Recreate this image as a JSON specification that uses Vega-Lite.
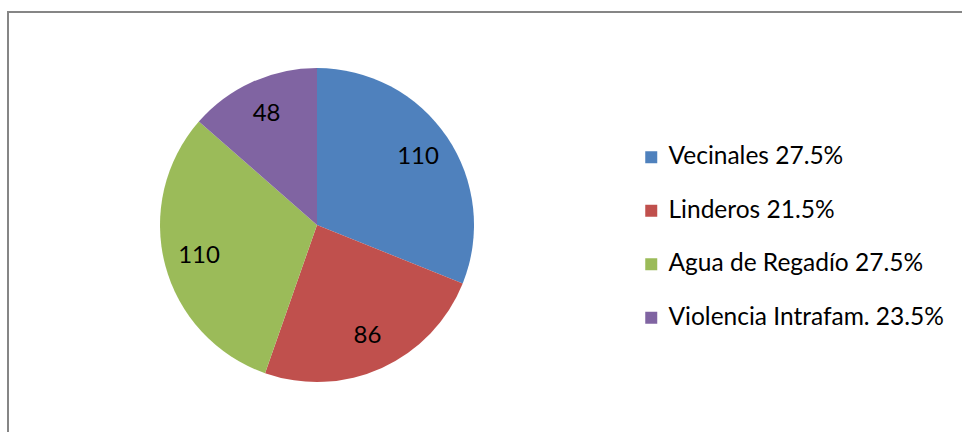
{
  "$schema": "https://vega.github.io/schema/vega-lite/v6.json",
  "width": 1200,
  "height": 426,
  "autosize": {"type": "none"},
  "padding": {"left": 8, "top": 12, "right": 0, "bottom": 0},
  "background": "white",
  "view": {"stroke": "#868686", "strokeWidth": 2, "fill": "white"},
  "config": {
    "font": "Lato"
  },
  "data": {
    "values": [
      {"label": "Vecinales 27.5%", "value": 110, "order": 1},
      {"label": "Linderos 21.5%", "value": 86, "order": 2},
      {"label": "Agua de Regadío 27.5%", "value": 110, "order": 3},
      {"label": "Violencia Intrafam. 23.5%", "value": 48, "order": 4}
    ]
  },
  "encoding": {
    "theta": {"field": "value", "type": "quantitative", "stack": true},
    "order": {"field": "order", "type": "quantitative"}
  },
  "layer": [
    {
      "mark": {"type": "arc", "outerRadius": 157, "x": 309, "y": 213},
      "encoding": {
        "color": {
          "field": "label",
          "type": "nominal",
          "sort": ["Vecinales 27.5%", "Linderos 21.5%", "Agua de Regadío 27.5%", "Violencia Intrafam. 23.5%"],
          "scale": {
            "domain": ["Vecinales 27.5%", "Linderos 21.5%", "Agua de Regadío 27.5%", "Violencia Intrafam. 23.5%"],
            "range": ["#4F81BD", "#C0504D", "#9BBB59", "#8064A2"]
          },
          "legend": {
            "title": null,
            "orient": "none",
            "legendX": 631,
            "legendY": 133,
            "symbolType": "square",
            "symbolSize": 144,
            "symbolStrokeWidth": 0,
            "labelFontSize": 24.5,
            "labelFont": "Lato",
            "labelColor": "black",
            "labelOffset": 5,
            "rowPadding": 28.5,
            "labelLimit": 400
          }
        }
      }
    },
    {
      "mark": {"type": "text", "radius": 122, "x": 309, "y": 213, "fontSize": 24, "font": "Lato", "color": "black"},
      "encoding": {
        "text": {"field": "value", "type": "quantitative"}
      }
    }
  ]
}
